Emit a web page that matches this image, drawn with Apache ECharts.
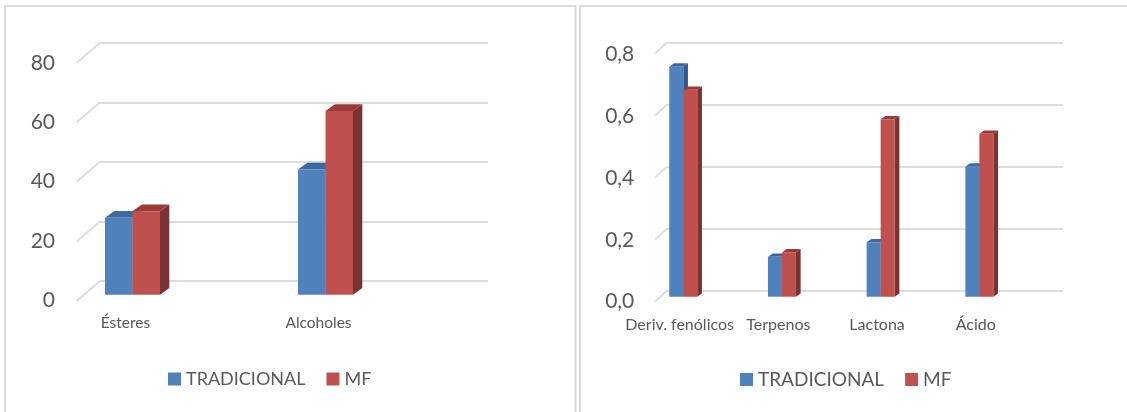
<!DOCTYPE html>
<html>
<head>
<meta charset="utf-8">
<script src="https://cdn.jsdelivr.net/npm/echarts@6/dist/echarts.min.js"></script>
<style>
html,body{margin:0;padding:0;background:#fff;}
#c{width:1127px;height:412px;}
</style>
</head>
<body>
<div id="c"></div>
<script>
// ---- data ----
const leftCategories = ['Ésteres', 'Alcoholes'];
const leftTradicional = [26, 42.3];
const leftMF = [28.2, 62];
const leftTicks = [0, 20, 40, 60, 80];

const rightCategories = ['Deriv. fenólicos', 'Terpenos', 'Lactona', 'Ácido'];
const rightTradicional = [0.743, 0.129, 0.176, 0.42];
const rightMF = [0.668, 0.143, 0.573, 0.526];
const rightTicks = [0, 0.2, 0.4, 0.6, 0.8];

const seriesNames = ['TRADICIONAL', 'MF'];

// ---- styles ----
const BLUE = {front: '#4f81bd', top: '#3c6aa0', side: '#2f5b8c'};
const RED = {front: '#c0504d', top: '#9b3b38', side: '#7a3232'};
const FONT = 'Lato';
const TXT = '#595959';
const GRIDC = '#dcdcdc';

function bar3d(opt) {
  return function (params, api) {
    const c = api.coord([api.value(0), api.value(1)]);
    const b = api.coord([api.value(0), 0]);
    const cx = c[0] + opt.shiftX;
    const yt = c[1] + opt.shiftY;
    const yb = b[1] + opt.shiftY;
    const x0 = opt.side === 'left' ? cx - opt.w : cx;
    const x1 = x0 + opt.w;
    const dx = opt.dx, dy = opt.dy;
    return {
      type: 'group',
      children: [
        {type: 'polygon', shape: {points: [[x1, yt], [x1 + dx, yt - dy], [x1 + dx, yb - dy], [x1, yb]]}, style: {fill: opt.col.side}},
        {type: 'polygon', shape: {points: [[x0, yt], [x1, yt], [x1 + dx, yt - dy], [x0 + dx, yt - dy]]}, style: {fill: opt.col.top}},
        {type: 'rect', shape: {x: x0, y: yt, width: opt.w, height: yb - yt}, style: {fill: opt.col.front}}
      ]
    };
  };
}

function diag(dx, dy) {
  return function (params, api) {
    const p = api.coord([0, api.value(0)]);
    return {type: 'line', shape: {x1: p[0], y1: p[1], x2: p[0] - dx, y2: p[1] + dy}, style: {stroke: GRIDC, lineWidth: 2}};
  };
}

const chart = echarts.init(document.getElementById('c'), null, {renderer: 'canvas'});

const option = {
  animation: false,
  backgroundColor: '#ffffff',
  textStyle: {fontFamily: FONT},
  graphic: [
    {type: 'rect', shape: {x: 5, y: 6, width: 570.5, height: 430}, style: {fill: 'none', stroke: '#d9d9d9', lineWidth: 2}, silent: true},
    {type: 'rect', shape: {x: 580, y: 6, width: 560, height: 430}, style: {fill: 'none', stroke: '#d9d9d9', lineWidth: 2}, silent: true}
  ],
  grid: [
    {left: 100, top: 42.7, width: 388, height: 238.3},
    {left: 29, top: 63, width: 386, height: 237},
    {left: 666.7, top: 42.7, width: 396.3, height: 248.3},
    {left: 630.3, top: 54, width: 394.8, height: 247.7}
  ],
  xAxis: [
    {gridIndex: 0, type: 'value', min: 0, max: 1, show: false},
    {gridIndex: 1, type: 'category', data: leftCategories, axisLine: {show: false}, axisTick: {show: false},
      axisLabel: {color: TXT, fontSize: 15.5, fontFamily: FONT, margin: 15}},
    {gridIndex: 2, type: 'value', min: 0, max: 1, show: false},
    {gridIndex: 3, type: 'category', data: rightCategories, axisLine: {show: false}, axisTick: {show: false},
      axisLabel: {color: TXT, fontSize: 16, fontFamily: FONT, margin: 15, interval: 0}}
  ],
  yAxis: [
    {gridIndex: 0, type: 'value', min: 0, max: 80, interval: 20, axisLabel: {show: false}, axisLine: {show: false}, axisTick: {show: false},
      splitLine: {lineStyle: {color: GRIDC, width: 2}}},
    {gridIndex: 1, type: 'value', min: 0, max: 80, interval: 20, offset: -34, axisLine: {show: false}, axisTick: {show: false},
      splitLine: {show: false}, axisLabel: {color: TXT, fontSize: 21, fontFamily: FONT, margin: 8}},
    {gridIndex: 2, type: 'value', min: 0, max: 0.8, interval: 0.2, axisLabel: {show: false}, axisLine: {show: false}, axisTick: {show: false},
      splitLine: {lineStyle: {color: GRIDC, width: 2}}},
    {gridIndex: 3, type: 'value', min: 0, max: 0.8, interval: 0.2, offset: -12, axisLine: {show: false}, axisTick: {show: false},
      splitLine: {show: false}, axisLabel: {color: TXT, fontSize: 21, fontFamily: FONT, margin: 8,
        formatter: v => v.toFixed(1).replace('.', ',')}}
  ],
  legend: [
    {data: seriesNames, left: 168, top: 370, padding: 0, icon: 'rect', itemWidth: 13, itemHeight: 13, itemGap: 21,
      textStyle: {color: TXT, fontSize: 18, fontFamily: FONT}},
    {data: seriesNames, left: 740, top: 370, padding: 0, icon: 'rect', itemWidth: 13, itemHeight: 13, itemGap: 21,
      textStyle: {color: TXT, fontSize: 19, fontFamily: FONT}}
  ],
  series: [
    {type: 'custom', xAxisIndex: 0, yAxisIndex: 0, data: leftTicks.map(v => [v]), renderItem: diag(23.3, 20), silent: true, z: 1},
    {type: 'custom', xAxisIndex: 2, yAxisIndex: 2, data: rightTicks.map(v => [v]), renderItem: diag(11.7, 10.7), silent: true, z: 1},
    {name: 'TRADICIONAL', type: 'custom', xAxisIndex: 1, yAxisIndex: 1, itemStyle: {color: BLUE.front},
      data: leftTradicional.map((v, i) => [i, v]),
      renderItem: bar3d({shiftX: 7, shiftY: -5.3, w: 27.5, dx: 9.3, dy: 6.7, side: 'left', col: BLUE}), z: 2},
    {name: 'MF', type: 'custom', xAxisIndex: 1, yAxisIndex: 1, itemStyle: {color: RED.front},
      data: leftMF.map((v, i) => [i, v]),
      renderItem: bar3d({shiftX: 7, shiftY: -5.3, w: 27.5, dx: 9.3, dy: 6.7, side: 'right', col: RED}), z: 3},
    {name: 'TRADICIONAL', type: 'custom', xAxisIndex: 3, yAxisIndex: 3, itemStyle: {color: BLUE.front},
      data: rightTradicional.map((v, i) => [i, v]),
      renderItem: bar3d({shiftX: 3.6, shiftY: -5, w: 14, dx: 4.7, dy: 3.3, side: 'left', col: BLUE}), z: 2},
    {name: 'MF', type: 'custom', xAxisIndex: 3, yAxisIndex: 3, itemStyle: {color: RED.front},
      data: rightMF.map((v, i) => [i, v]),
      renderItem: bar3d({shiftX: 3.6, shiftY: -5, w: 14, dx: 4.7, dy: 3.3, side: 'right', col: RED}), z: 3}
  ]
};
chart.setOption(option);
</script>
</body>
</html>
